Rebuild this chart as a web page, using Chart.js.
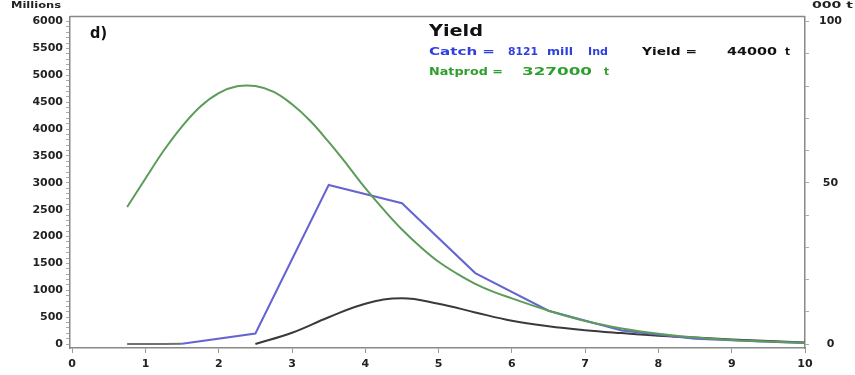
<!DOCTYPE html>
<html>
<head>
<meta charset="utf-8">
<script src="https://cdn.jsdelivr.net/npm/chart.js@4/dist/chart.umd.min.js"></script>
<style>
  html, body { margin: 0; padding: 0; background: #fff; }
</style>
</head>
<body>
<canvas id="yieldChart" width="855" height="375"></canvas>
<script>
// natural production (millions), smooth green curve
const natAges = [0.75, 1, 1.25, 1.5, 1.75, 2, 2.25, 2.5, 2.75, 3, 3.25, 3.5, 3.75, 4, 4.25, 4.5, 4.75, 5, 5.25, 5.5, 5.75, 6, 6.5, 7, 7.5, 8, 8.5, 9, 9.5, 10]
const natValues = [2550, 3080, 3600, 4050, 4420, 4670, 4795, 4800, 4690, 4460, 4150, 3760, 3340, 2900, 2500, 2130, 1810, 1530, 1310, 1120, 970, 850, 620, 430, 290, 190, 120, 75, 45, 25]

// catch in millions (blue)
const catchAges = [0.75, 1, 1.25, 1.5, 2.5, 3.5, 4.5, 5.5, 6.5, 7.5, 8.5, 9.5, 10]
const catchValues = [0, 0, 0, 5, 195, 2960, 2620, 1320, 620, 250, 100, 40, 20]

// yield in 000 t (right axis, black)
const yieldAges = [2.5, 3, 3.5, 4, 4.5, 5, 5.5, 6, 6.5, 7, 7.5, 8, 8.5, 9, 9.5, 10]
const yieldValues = [0, 3.5, 8.3, 12.5, 14.2, 12.5, 9.8, 7.2, 5.5, 4.3, 3.4, 2.6, 2.0, 1.4, 0.9, 0.5]

const xTicks = [0, 1, 2, 3, 4, 5, 6, 7, 8, 9, 10]
const leftTicks = []   // every 100, labelled every 500
for (let v = 0; v <= 6000; v += 100) leftTicks.push(v)
const rightTicks = [0, 10, 20, 30, 40, 50, 60, 70, 80, 90, 100]
const rightLabels = [0, 50, 100]

const toPoints = (xs, ys) => xs.map((x, i) => ({x, y: ys[i]}))

Chart.defaults.font.family = 'DejaVu Sans'
Chart.defaults.font.weight = 'bold'
Chart.defaults.font.size = 11
Chart.defaults.color = '#222'

const BLUE = '#6565d2'
const GREEN = '#5c9c58'
const DARK = '#3a3a3a'
const TXT_BLUE = '#2f3fe0'
const TXT_GREEN = '#2c9f2c'

// texts written on top of the chart, stretched to the width seen in the picture
const notes = [
  {text: 'Millions', x: 11, y: 6, w: 50, size: 8, color: '#222'},
  {text: '000 t', x: 812, y: 6, w: 41, size: 8, color: '#222'},
  {text: 'd)', x: 90, y: 34, w: 17, size: 15, color: '#111'},
  {text: 'Yield', x: 429, y: 32, w: 54, size: 16, color: '#111'},
  {text: 'Catch =', x: 429, y: 52, w: 66, size: 11, color: TXT_BLUE},
  {text: '8121', x: 508, y: 52, w: 30, size: 11, color: TXT_BLUE},
  {text: 'mill', x: 547, y: 52, w: 26, size: 11, color: TXT_BLUE},
  {text: 'Ind', x: 588, y: 52, w: 20, size: 11, color: TXT_BLUE},
  {text: 'Yield =', x: 642, y: 52, w: 55, size: 11, color: '#111'},
  {text: '44000', x: 727, y: 52, w: 50, size: 11, color: '#111'},
  {text: 't', x: 785, y: 52, w: 5, size: 11, color: '#111'},
  {text: 'Natprod =', x: 429, y: 72, w: 74, size: 11, color: TXT_GREEN},
  {text: '327000', x: 522, y: 72, w: 70, size: 11, color: TXT_GREEN},
  {text: 't', x: 604, y: 72, w: 5, size: 11, color: TXT_GREEN}
]

const framePlugin = {
  id: 'frame',
  afterDraw(chart) {
    const {ctx, chartArea} = chart
    ctx.save()
    ctx.strokeStyle = '#888'
    ctx.lineWidth = 1.5
    ctx.beginPath()
    ctx.moveTo(chartArea.left, chartArea.top)
    ctx.lineTo(chartArea.right, chartArea.top)
    ctx.stroke()

    ctx.textBaseline = 'middle'
    ctx.textAlign = 'left'
    notes.forEach(n => {
      ctx.font = 'bold ' + n.size + 'px "DejaVu Sans"'
      const mw = ctx.measureText(n.text).width
      ctx.save()
      ctx.translate(n.x, n.y)
      ctx.scale(n.w / mw, 1)
      ctx.fillStyle = n.color
      ctx.fillText(n.text, 0, 0)
      ctx.restore()
    })
    ctx.restore()
  }
}

const ctx = document.getElementById('yieldChart').getContext('2d')
const chart = new Chart(ctx, {
  type: 'line',
  data: {
    datasets: [
      {
        label: 'Natprod',
        data: toPoints(natAges, natValues),
        borderColor: GREEN,
        borderWidth: 2,
        pointRadius: 0,
        tension: 0.4,
        yAxisID: 'y'
      },
      {
        label: 'Catch',
        data: toPoints(catchAges, catchValues),
        borderColor: BLUE,
        borderWidth: 2,
        pointRadius: 0,
        tension: 0,
        segment: {
          borderColor: c => c.p1.parsed.x <= 1.5 ? '#707070' : undefined
        },
        yAxisID: 'y'
      },
      {
        label: 'Yield',
        data: toPoints(yieldAges, yieldValues),
        borderColor: DARK,
        borderWidth: 2,
        pointRadius: 0,
        tension: 0.4,
        yAxisID: 'y2'
      }
    ]
  },
  options: {
    responsive: false,
    animation: false,
    devicePixelRatio: 1,
    layout: {padding: {top: 13, left: 0, right: 0, bottom: 0}},
    plugins: {
      legend: {display: false},
      tooltip: {enabled: false}
    },
    scales: {
      x: {
        type: 'linear',
        min: -0.03,
        max: 10,
        afterBuildTicks: axis => { axis.ticks = xTicks.map(v => ({value: v})) },
        afterFit: axis => { axis.height = 27 },
        border: {color: '#888', width: 1.5},
        grid: {drawOnChartArea: false, tickLength: 5, tickColor: '#999'},
        ticks: {padding: 5, maxRotation: 0, autoSkip: false, color: '#222'}
      },
      y: {
        position: 'left',
        min: -74,
        max: 6092,
        afterBuildTicks: axis => { axis.ticks = leftTicks.map(v => ({value: v})) },
        afterFit: axis => { axis.width = 70 },
        border: {color: '#888', width: 1.5},
        grid: {drawOnChartArea: false, tickLength: 4, tickColor: '#aaa'},
        ticks: {
          padding: 3,
          autoSkip: false,
          color: '#222',
          callback: v => v % 500 === 0 ? v : ''
        }
      },
      y2: {
        position: 'right',
        min: -74 / 60,
        max: 6092 / 60,
        afterBuildTicks: axis => { axis.ticks = rightTicks.map(v => ({value: v})) },
        afterFit: axis => { axis.width = 50 },
        border: {color: '#888', width: 1.5},
        grid: {drawOnChartArea: false, tickLength: 4, tickColor: '#aaa'},
        ticks: {
          padding: 10,
          autoSkip: false,
          crossAlign: 'center',
          color: '#222',
          callback: v => rightLabels.includes(v) ? v : ''
        }
      }
    }
  },
  plugins: [framePlugin]
})
</script>
</body>
</html>
